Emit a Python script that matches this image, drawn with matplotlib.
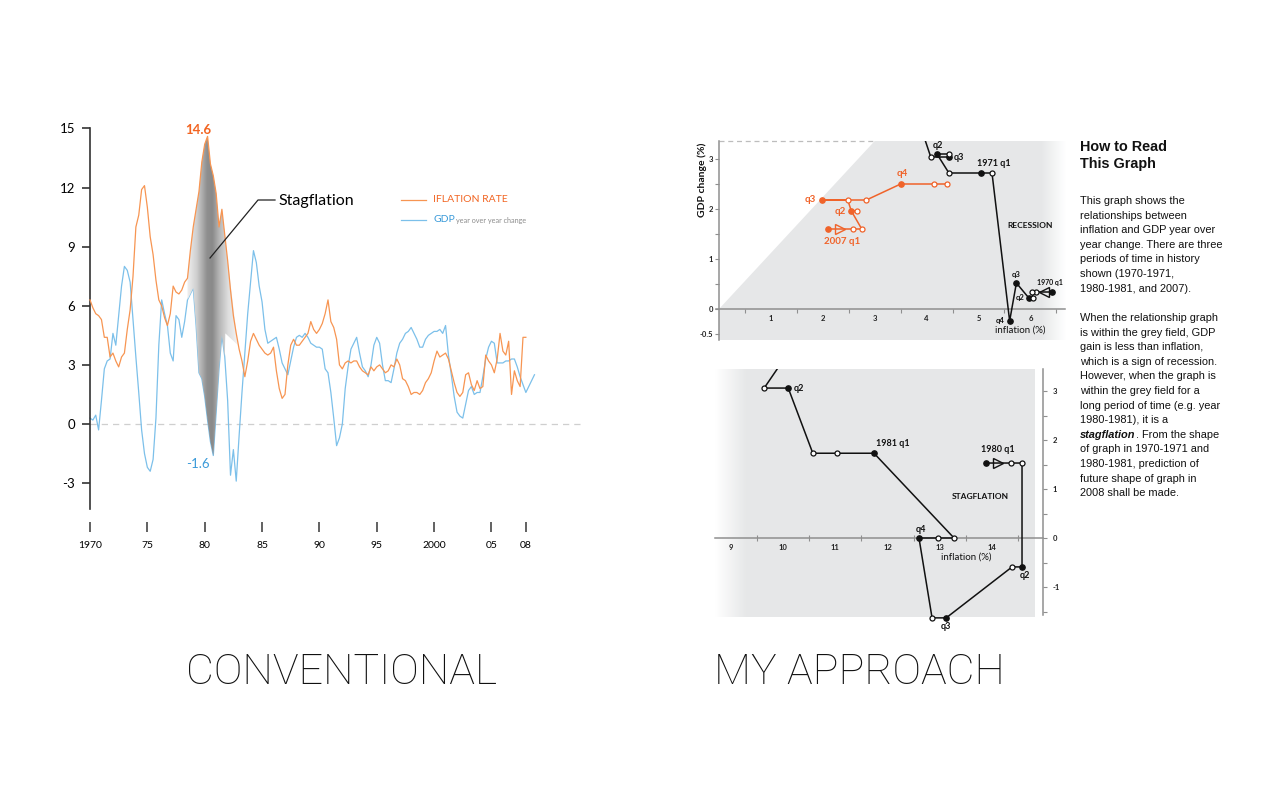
import numpy as np
import matplotlib.pyplot as plt
from matplotlib.colors import LinearSegmentedColormap
from matplotlib.patches import Polygon
from matplotlib.lines import Line2D

W, H = 1275, 799

# ---------------- conventional chart data (quarterly, from 1970 q1) ----------------
gdp = [0.3, 0.2, 0.45, -0.3,
       1.2, 2.8, 3.2, 3.3,
       4.6, 4.0, 5.5, 7.0,
       8.0, 7.8, 7.2, 5.3,
       3.4, 1.6, -0.3, -1.5,
       -2.2, -2.4, -1.8, 0.3,
       4.0, 6.3, 5.6, 5.0,
       3.6, 3.2, 5.5, 5.3,
       4.4, 5.2, 6.3, 6.6,
       6.9, 5.0, 2.6, 2.3,
       1.4, 0.2, -0.9, -1.6,
       0.6, 2.8, 4.5, 3.4,
       1.2, -2.6, -1.3, -2.9,
       -0.6, 1.6, 3.6, 5.6,
       7.2, 8.8, 8.2, 7.0,
       6.2, 4.8, 4.1, 4.2,
       4.3, 4.4, 3.8, 3.1,
       2.8, 2.5, 3.2, 3.9,
       4.4, 4.5, 4.4, 4.6,
       4.4, 4.1, 4.0, 3.9,
       3.9, 3.8, 2.8, 2.6,
       1.6, 0.3, -1.1, -0.7,
       0.0, 1.8, 2.9, 3.8,
       4.1, 4.4, 3.6, 2.9,
       2.7, 2.4, 3.0, 4.0,
       4.4, 4.1, 3.0, 2.2,
       2.2, 2.1, 2.8, 3.6,
       4.1, 4.3, 4.6, 4.7,
       4.9, 4.6, 4.3, 3.9,
       3.9, 4.3, 4.5, 4.6,
       4.7, 4.7, 4.8, 4.6,
       5.0, 3.5, 2.5, 1.4,
       0.6, 0.4, 0.3, 1.0,
       1.7, 1.9, 1.5, 1.6,
       1.6, 2.4, 3.3, 3.9,
       4.2, 4.1, 3.1, 3.1,
       3.1, 3.2, 3.2, 3.3,
       3.3, 2.9, 2.4, 2.0,
       1.6, 1.9, 2.2, 2.5]

inflation = [6.3, 5.9, 5.6, 5.5,
             5.3, 4.4, 4.4, 3.4,
             3.6, 3.2, 2.9, 3.4,
             3.6, 4.8, 5.8, 7.5,
             10.0, 10.6, 11.9, 12.1,
             11.0, 9.5, 8.6, 7.3,
             6.3, 6.0, 5.4, 5.0,
             5.6, 7.0, 6.7, 6.6,
             6.8, 7.2, 7.4, 8.8,
             10.0, 10.9, 11.8, 13.3,
             14.2, 14.6, 13.2, 12.6,
             11.7, 10.0, 10.9, 9.6,
             8.3, 6.8, 5.5, 4.6,
             3.8, 3.2, 2.4, 3.2,
             4.2, 4.6, 4.3, 4.0,
             3.8, 3.6, 3.5, 3.6,
             3.9, 2.7, 1.8, 1.3,
             1.5, 3.0, 4.0, 4.3,
             4.0, 4.0, 4.2, 4.4,
             4.6, 5.2, 4.8, 4.6,
             4.8, 5.1, 5.6, 6.3,
             5.2, 4.9, 4.3, 3.0,
             2.8, 3.1, 3.2, 3.1,
             3.2, 3.2, 2.9, 2.7,
             2.6, 2.5, 2.9, 2.7,
             2.9, 3.0, 2.8, 2.6,
             2.7, 3.0, 2.9, 3.3,
             3.0, 2.3, 2.2, 1.9,
             1.5, 1.6, 1.6, 1.5,
             1.7, 2.1, 2.3, 2.6,
             3.2, 3.7, 3.4, 3.5,
             3.6, 3.3, 2.7, 2.1,
             1.6, 1.4, 1.6, 2.5,
             2.6, 2.0, 1.7, 2.2,
             1.8, 1.9, 3.5, 3.2,
             3.0, 2.6, 3.3, 4.6,
             3.7, 3.5, 4.2, 1.5,
             2.7, 2.2, 1.9, 4.4,
             4.4]

year_ticks = [1970, 1975, 1980, 1985, 1990, 1995, 2000, 2005, 2008]
year_labels = ['1970', '75', '80', '85', '90', '95', '2000', '05', '08']
value_ticks = [-3, 0, 3, 6, 9, 12, 15]

stag_start, stag_end = 1978.5, 1981.75
stag_wedge_years = [1982.0, 1982.9, 1981.8]
stag_wedge_vals = [8.3, 4.0, 4.6]

# ---------------- relationship graphs ----------------
# 2007 (inflation %, gdp %), f = quarter start, o = month
infl_2007 = [2.10, 2.58, 2.75, 2.55, 2.66, 2.55, 2.48, 1.99, 2.84, 3.50, 4.15, 4.40]
gdp_2007 = [1.60, 1.60, 1.60, 1.96, 1.96, 1.96, 2.18, 2.18, 2.18, 2.50, 2.50, 2.50]
kind_2007 = ['f', 'o', 'o', 'f', 'o', '', 'o', 'f', 'o', 'f', 'o', 'o']

infl_1970 = [6.42, 6.10, 6.03, 6.05, 5.97, 5.73, 5.60, 5.26, 5.05, 4.43, 4.20, 4.43, 4.43, 4.08, 3.90]
gdp_1970 = [0.34, 0.34, 0.34, 0.22, 0.22, 0.52, -0.24, 2.72, 2.72, 2.72, 3.10, 3.10, 3.04, 3.04, 3.60]
kind_1970 = ['f', 'o', 'o', 'o', 'f', 'f', 'f', 'o', 'f', 'o', 'f', 'o', 'f', 'o', '']

infl_1980 = [13.88, 14.36, 14.57, 14.57, 14.38, 13.12, 12.85, 12.60, 12.96, 13.27, 11.74, 11.03, 10.57, 10.10, 9.64, 10.05]
gdp_1980 = [1.53, 1.53, 1.53, -0.59, -0.59, -1.63, -1.63, 0.00, 0.00, 0.00, 1.73, 1.73, 1.73, 3.06, 3.06, 3.70]
kind_1980 = ['f', 'o', 'o', 'f', 'o', 'f', 'o', 'f', 'o', 'o', 'f', 'o', 'o', 'f', 'o', '']

ORANGE_LINE = '#f79552'
BLUE_LINE = '#7cc0ea'
ORANGE_TXT = '#f26522'
BLUE_TXT = '#3a9ad9'
PATH_ORANGE = '#f0632a'
FIELD = np.array([0.902, 0.906, 0.910])

fig = plt.figure(figsize=(W / 100, H / 100), dpi=100)


def px_axes(l, t, r, b):
    a = fig.add_axes([l / W, 1 - b / H, (r - l) / W, (b - t) / H])
    a.patch.set_visible(False)
    return a


def fpos(x, y):
    return x / W, 1 - y / H


# ================= CONVENTIONAL =================
ax = px_axes(40, 110, 600, 570)

years = 1970 + np.arange(len(gdp)) / 4
years_i = 1970 + np.arange(len(inflation)) / 4
gdp_a = np.array(gdp)
inf_a = np.array(inflation)

ax.plot([1970, 2013], [0, 0], color='#cfcfcf', lw=0.9, dashes=(5, 4), zorder=1)
ax.plot(years, gdp_a, color=BLUE_LINE, lw=0.9, zorder=2)

# stagflation highlight between the two curves
m_i = (years_i >= stag_start) & (years_i <= stag_end)
m_g = (years >= stag_start) & (years <= stag_end)
top = list(zip(years_i[m_i], inf_a[m_i]))
wedge = list(zip(stag_wedge_years, stag_wedge_vals))
bottom = list(zip(years[m_g], gdp_a[m_g]))[::-1]
poly = Polygon(top + wedge + bottom, closed=True, transform=ax.transData,
               facecolor='none', edgecolor='none')
ax.add_patch(poly)
cmap = LinearSegmentedColormap.from_list('stag', [
    (0.0, '#f4f4f4'), (0.2, '#cfcfcf'), (0.4, '#8e8e8e'),
    (0.5, '#8a8a8a'), (0.62, '#b3b3b3'), (0.8, '#dedede'), (1.0, '#f6f6f6')])
grad = np.linspace(0, 1, 300).reshape(1, -1)
im = ax.imshow(grad, extent=[1978.4, 1983.0, -2.5, 15.5], aspect='auto',
               cmap=cmap, zorder=3, interpolation='bilinear')
im.set_clip_path(poly)
ax.plot(years_i, inf_a, color=ORANGE_LINE, lw=0.9, zorder=4)
ax.set_xlim(1965.641, 2014.464)
ax.set_ylim(-7.411, 15.939)

for s in ['top', 'right']:
    ax.spines[s].set_visible(False)
ax.spines['left'].set_position(('data', 1970))
ax.spines['left'].set_bounds(-4.3, 15)
ax.spines['left'].set_color('#333333')
ax.spines['left'].set_linewidth(1.2)
ax.spines['bottom'].set_position(('data', -5.48))
ax.spines['bottom'].set_visible(False)
ax.set_xticks(year_ticks)
ax.set_xticklabels(year_labels, family='Lato', fontsize=7.5)
ax.set_yticks(value_ticks)
ax.set_yticklabels([str(v) for v in value_ticks], family='Lato', fontsize=9.5)
ax.tick_params(axis='x', direction='in', length=7.2, width=1.3, color='#555555', pad=6.5)
ax.tick_params(axis='y', direction='out', length=5.8, width=1.2, color='#333333', pad=5)

i_max = int(np.argmax(inf_a))
ax.annotate(f'{inf_a[i_max]:.1f}', (years_i[i_max], inf_a[i_max]), xytext=(-6.5, 4.5),
            textcoords='offset points', ha='center', va='center', color=ORANGE_TXT,
            fontsize=9.5, family='Lato', fontweight='bold')
win = np.where(m_g)[0]
i_min = int(win[np.argmin(gdp_a[m_g])])
ax.annotate(f'{gdp_a[i_min]:.1f}', (years[i_min], gdp_a[i_min]), xytext=(-11, -6),
            textcoords='offset points', ha='center', va='center', color=BLUE_TXT,
            fontsize=9.5, family='Lato')

# stagflation leader and label
lx = [210 / W, 258 / W, 275 / W]
ly = [1 - 258 / H, 1 - 200 / H, 1 - 200 / H]
fig.add_artist(Line2D(lx, ly, transform=fig.transFigure, color='#222222', lw=0.9))
fig.text(*fpos(278, 201), 'Stagflation', ha='left', va='center', fontsize=11.5, family='Lato')

# legend
fig.add_artist(Line2D([401 / W, 426 / W], [1 - 200 / H] * 2, transform=fig.transFigure,
                      color=ORANGE_LINE, lw=0.9))
fig.add_artist(Line2D([401 / W, 426 / W], [1 - 220 / H] * 2, transform=fig.transFigure,
                      color=BLUE_LINE, lw=0.9))
fig.text(*fpos(433, 200), 'IFLATION RATE', ha='left', va='center', fontsize=7.5,
         family='Lato', color=ORANGE_TXT)
fig.text(*fpos(433, 220), 'GDP', ha='left', va='center', fontsize=7.5,
         family='Lato', color=BLUE_TXT)
fig.text(*fpos(456, 221), 'year over year change', ha='left', va='center', fontsize=5.2,
         family='Lato', color='#8c8c8c')

fig.text(*fpos(342, 672), 'CONVENTIONAL', ha='center', va='center', fontsize=31,
         family='Roboto', fontweight='light', color='#111111')
fig.text(*fpos(859, 672), 'MY APPROACH', ha='center', va='center', fontsize=31,
         family='Roboto', fontweight='light', color='#111111')


# ================= MY APPROACH =================
def draw_path(a, xs, ys, kinds, color, arrow):
    a.plot(xs, ys, color=color, lw=1.1, zorder=3, solid_joinstyle='miter')
    xs = np.array(xs)
    ys = np.array(ys)
    kinds = np.array(kinds)
    f = kinds == 'f'
    o = kinds == 'o'
    a.plot(xs[f], ys[f], 'o', ms=3.8, color=color, zorder=4)
    a.plot(xs[o], ys[o], 'o', ms=3.6, mfc='white', mec=color, mew=0.9, zorder=4)
    a.plot([(xs[0] + xs[1]) / 2], [(ys[0] + ys[1]) / 2], marker=arrow, ms=7,
           mfc='none', mec=color, mew=1.0, zorder=4)


def tag(a, label, xs, ys, i, dx, dy, ha='center', size=6.5, color='#111111'):
    a.annotate(label, (xs[i], ys[i]), xytext=(dx * 0.72, dy * 0.72),
               textcoords='offset points', ha=ha, va='center', fontsize=size,
               fontweight='bold', color=color, family='Lato', annotation_clip=False)


def style_ticks(a):
    for lab in a.get_xticklabels() + a.get_yticklabels():
        lab.set_family('Lato')
        lab.set_fontweight('bold')
        lab.set_fontsize(5.5)
        lab.set_color('#222222')


# ---- top graph: 1970-71 and 2007 ----
ax2 = px_axes(690, 141, 1075, 345)
top_poly = Polygon([(0, -0.62), (6.67, -0.62), (6.67, 3.36), (3.0, 3.36), (0, 0)],
                   closed=True, transform=ax2.transData, facecolor='none', edgecolor='none')
ax2.add_patch(top_poly)
xx = np.linspace(0, 6.67, 400)
fade = np.clip((6.67 - xx) / 0.47, 0, 1)[:, None]
img = (1 - fade) * np.ones(3) + fade * FIELD
im2 = ax2.imshow(img[None, :, :], extent=[0, 6.67, -0.62, 3.36], aspect='auto',
                 zorder=0, interpolation='bilinear')
im2.set_clip_path(top_poly)
ax2.plot([0, 3.0], [3.36, 3.36], color='#bdbdbd', lw=0.9, dashes=(4, 3), clip_on=False, zorder=1)
ax2.set_xlim(-0.5588, 6.8593)
ax2.set_ylim(-0.72, 3.36)

for s in ['top', 'right']:
    ax2.spines[s].set_visible(False)
ax2.spines['left'].set_position(('data', 0))
ax2.spines['left'].set_bounds(-0.62, 3.36)
ax2.spines['bottom'].set_position(('data', 0))
ax2.spines['bottom'].set_bounds(-0.05, 6.67)
for s in ['left', 'bottom']:
    ax2.spines[s].set_color('#8f8f8f')
    ax2.spines[s].set_linewidth(1.1)
ax2.set_xticks([1, 2, 3, 4, 5, 6])
ax2.set_xticks([0.5, 1.5, 2.5, 3.5, 4.5, 5.5, 6.5], minor=True)
ax2.set_yticks([-0.5, 0, 1, 2, 3])
ax2.set_yticklabels(['-0.5', '0', '1', '2', '3'])
ax2.set_yticks([0.5, 1.5, 2.5], minor=True)
ax2.tick_params(axis='x', which='major', length=0, pad=4)
ax2.tick_params(axis='x', which='minor', length=3, width=0.8, color='#8f8f8f')
ax2.tick_params(axis='y', which='both', length=3, width=0.8, color='#8f8f8f', pad=1.5)
style_ticks(ax2)

draw_path(ax2, infl_2007, gdp_2007, kind_2007, PATH_ORANGE, '>')
draw_path(ax2, infl_1970, gdp_1970, kind_1970, '#111111', '<')

tag(ax2, 'q3', infl_2007, gdp_2007, 7, -6, 0, ha='right', size=7, color=PATH_ORANGE)
tag(ax2, 'q2', infl_2007, gdp_2007, 3, -5, -1, ha='right', size=7, color=PATH_ORANGE)
tag(ax2, '2007 q1', infl_2007, gdp_2007, 0, 14, -12, size=7, color=PATH_ORANGE)
tag(ax2, 'q4', infl_2007, gdp_2007, 9, 2, 10, size=7, color=PATH_ORANGE)
tag(ax2, 'q2', infl_1970, gdp_1970, 10, 1, 8)
tag(ax2, 'q3', infl_1970, gdp_1970, 12, 5, -1, ha='left')
tag(ax2, '1971 q1', infl_1970, gdp_1970, 8, 13, 10)
tag(ax2, 'q3', infl_1970, gdp_1970, 5, 0, 8, size=5.5)
tag(ax2, 'q2', infl_1970, gdp_1970, 4, -4, 0, ha='right', size=5.5)
tag(ax2, 'q4', infl_1970, gdp_1970, 6, -5, 0, ha='right', size=5.5)
tag(ax2, '1970 q1', infl_1970, gdp_1970, 0, -2, 9, size=5)

ax2.text(5.99, 1.68, 'RECESSION', ha='center', va='center', fontsize=6, fontweight='bold',
         family='Lato', color='#111111')
ax2.text(5.81, -0.42, 'inflation (%)', ha='center', va='center', fontsize=7,
         family='Lato', color='#111111')
ax2.text(-0.33, 2.58, 'GDP change (%)', ha='center', va='center', rotation=90, fontsize=7.5,
         fontweight='bold', family='Lato', color='#111111')

# ---- bottom graph: 1980-81 ----
ax3 = px_axes(700, 369, 1075, 640)
bot_poly = Polygon([(8.70, -1.61), (14.82, -1.61), (14.82, 3.449), (8.70, 3.449)],
                   closed=True, transform=ax3.transData, facecolor='none', edgecolor='none')
ax3.add_patch(bot_poly)
xx3 = np.linspace(8.70, 14.82, 400)
fade3 = np.clip((xx3 - 8.70) / 0.6, 0, 1)[:, None]
img3 = (1 - fade3) * np.ones(3) + fade3 * FIELD
im3 = ax3.imshow(img3[None, :, :], extent=[8.70, 14.82, -1.61, 3.449], aspect='auto',
                 zorder=0, interpolation='bilinear')
im3.set_clip_path(bot_poly)
ax3.set_xlim(8.413, 15.583)
ax3.set_ylim(-2.0816, 3.449)

for s in ['top', 'left']:
    ax3.spines[s].set_visible(False)
ax3.spines['right'].set_position(('data', 14.97))
ax3.spines['right'].set_bounds(-1.57, 3.449)
ax3.spines['bottom'].set_position(('data', 0))
ax3.spines['bottom'].set_bounds(8.70, 14.97)
for s in ['right', 'bottom']:
    ax3.spines[s].set_color('#8f8f8f')
    ax3.spines[s].set_linewidth(1.1)
ax3.yaxis.tick_right()
ax3.set_xticks([9, 10, 11, 12, 13, 14])
ax3.set_xticks([9.5, 10.5, 11.5, 12.5, 13.5, 14.5], minor=True)
ax3.set_yticks([-1, 0, 1, 2, 3])
ax3.set_yticklabels(['-1', '0', '1', '2', '3'])
ax3.set_yticks([-1.5, -0.5, 0.5, 1.5, 2.5], minor=True)
ax3.tick_params(axis='x', which='major', length=0, pad=4)
ax3.tick_params(axis='x', which='minor', length=4, direction='inout', width=0.8, color='#8f8f8f')
ax3.tick_params(axis='y', which='both', length=3, width=0.8, color='#8f8f8f', pad=4)
style_ticks(ax3)

draw_path(ax3, infl_1980, gdp_1980, kind_1980, '#111111', '>')
tag(ax3, '1980 q1', infl_1980, gdp_1980, 0, 12, 14)
tag(ax3, 'q2', infl_1980, gdp_1980, 3, 3, -9)
tag(ax3, 'q3', infl_1980, gdp_1980, 5, 0, -9)
tag(ax3, 'q4', infl_1980, gdp_1980, 7, 2, 9)
tag(ax3, '1981 q1', infl_1980, gdp_1980, 10, 19, 10)
tag(ax3, 'q2', infl_1980, gdp_1980, 13, 6, 0, ha='left')
ax3.text(13.77, 0.84, 'STAGFLATION', ha='center', va='center', fontsize=6, fontweight='bold',
         family='Lato', color='#111111')
ax3.text(13.50, -0.39, 'inflation (%)', ha='center', va='center', fontsize=7,
         family='Lato', color='#111111')

# ================= explanation text =================
TF = 'Liberation Sans'
fig.text(*fpos(1080, 147), 'How to Read', ha='left', va='center', fontsize=10.4,
         fontweight='bold', family=TF, color='#111111')
fig.text(*fpos(1080, 164), 'This Graph', ha='left', va='center', fontsize=10.4,
         fontweight='bold', family=TF, color='#111111')

para1 = ['This graph shows the', 'relationships between', 'inflation and GDP year over',
         'year change. There are three', 'periods of time in history',
         'shown (1970-1971,', '1980-1981, and 2007).']
para2 = ['When the relationship graph', 'is within the grey field, GDP',
         'gain is less than inflation,', 'which is a sign of recession.',
         'However, when the graph is', 'within the grey field for a',
         'long period of time (e.g. year', '1980-1981), it is a', None,
         'of graph in 1970-1971 and', '1980-1981, prediction of',
         'future shape of graph in', '2008 shall be made.']
step = 14.6
BODY = 7.9
for k, line in enumerate(para1):
    fig.text(*fpos(1080, 201 + k * step), line, ha='left', va='center', fontsize=BODY,
             family=TF, color='#111111')
for k, line in enumerate(para2):
    y = 318 + k * step
    if line is None:
        t1 = fig.text(*fpos(1080, y), 'stagflation', ha='left', va='center', fontsize=BODY,
                      family=TF, fontweight='bold', style='italic', color='#111111')
        r = fig.canvas.get_renderer()
        bb = t1.get_window_extent(renderer=r)
        fig.text(bb.x1 / W, 1 - y / H, '. From the shape', ha='left', va='center',
                 fontsize=BODY, family=TF, color='#111111')
    else:
        fig.text(*fpos(1080, y), line, ha='left', va='center', fontsize=BODY,
                 family=TF, color='#111111')

fig.savefig('out.png', dpi=100)
